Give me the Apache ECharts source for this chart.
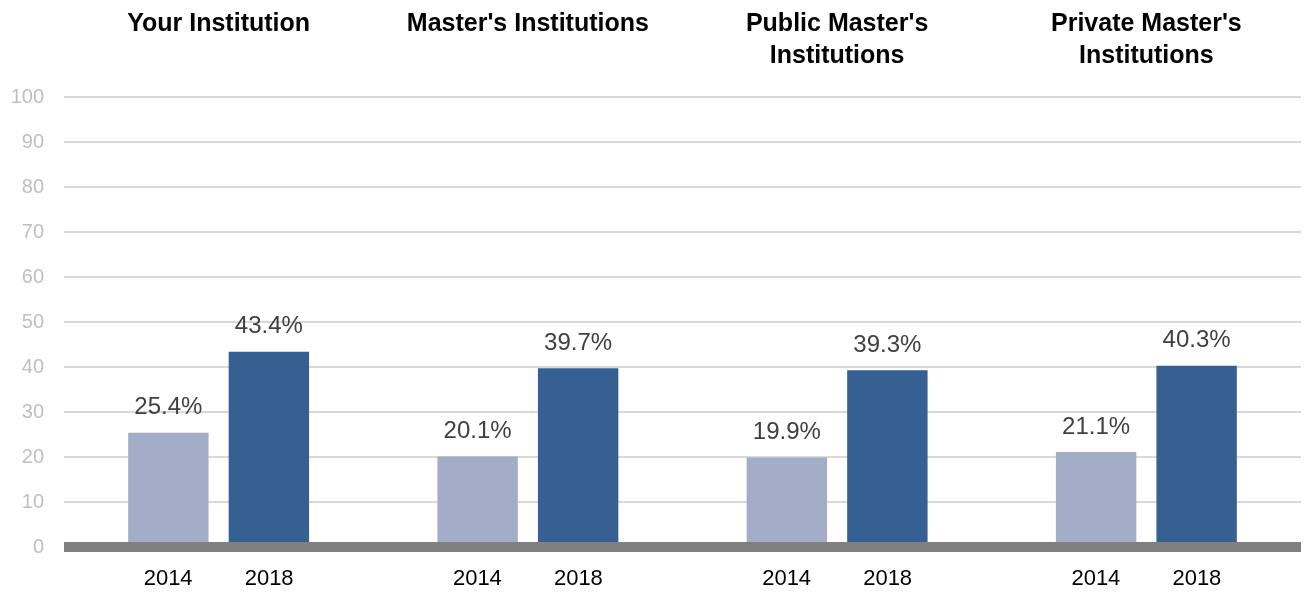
<!DOCTYPE html>
<html>
<head>
<meta charset="utf-8">
<script src="https://cdn.jsdelivr.net/npm/echarts@6/dist/echarts.min.js"></script>
<style>
  html, body { margin: 0; padding: 0; background: #fff; }
  #chart { width: 1304px; height: 593px; }
</style>
</head>
<body>
<div id="chart"></div>
<script>
const groups = ['Your Institution', "Master's Institutions", "Public Master's\nInstitutions", "Private Master's\nInstitutions"];
const years = ['2014', '2018'];
const values2014 = [25.4, 20.1, 19.9, 21.1];
const values2018 = [43.4, 39.7, 39.3, 40.3];

document.addEventListener('DOMContentLoaded', () => {
    const chart = echarts.init(document.getElementById('chart'));
    const font = "'Liberation Sans', Arial, sans-serif";

    // year labels under each pair of bars
    const yearRich = {};
    years.forEach((y, i) => {
        yearRich['y' + i] = { width: 101, align: 'center', fontSize: 22, color: '#000', fontFamily: font };
    });

    const valueLabel = {
        show: true,
        position: 'top',
        distance: 13,
        fontSize: 24,
        color: '#404040',
        fontFamily: font,
        formatter: p => p.value.toFixed(1) + '%'
    };

    const option = {
        animation: false,
        grid: { left: 64, right: 3, top: 97, bottom: 46 },
        xAxis: [{
            type: 'category',
            data: groups,
            position: 'bottom',
            z: 5,
            axisLine: { lineStyle: { color: '#808080', width: 10, cap: 'butt' } },
            axisTick: { show: false },
            axisLabel: {
                interval: 0,
                margin: 21,
                formatter: () => years.map((y, i) => `{y${i}|${y}}`).join(''),
                rich: yearRich
            }
        }, {
            type: 'category',
            data: groups,
            position: 'top',
            axisLine: { show: false },
            axisTick: { show: false },
            axisLabel: {
                interval: 0,
                hideOverlap: false,
                margin: 89,
                verticalAlign: 'top',
                fontSize: 25,
                lineHeight: 32,
                fontWeight: 'bold',
                color: '#000',
                fontFamily: font
            }
        }],
        yAxis: {
            type: 'value',
            min: 0,
            max: 100,
            interval: 10,
            axisLine: { show: false },
            axisTick: { show: false },
            axisLabel: { margin: 20, fontSize: 20, color: '#bfbfbf', fontFamily: font },
            splitLine: { lineStyle: { color: '#d9d9d9', width: 2 } }
        },
        series: [{
            name: years[0],
            type: 'bar',
            data: values2014,
            barWidth: '26%',
            barGap: '25%',
            itemStyle: { color: '#a3adc8' },
            label: valueLabel
        }, {
            name: years[1],
            type: 'bar',
            data: values2018,
            barWidth: '26%',
            barGap: '25%',
            itemStyle: { color: '#366092' },
            label: valueLabel
        }]
    };

    chart.setOption(option);
});
</script>
</body>
</html>
